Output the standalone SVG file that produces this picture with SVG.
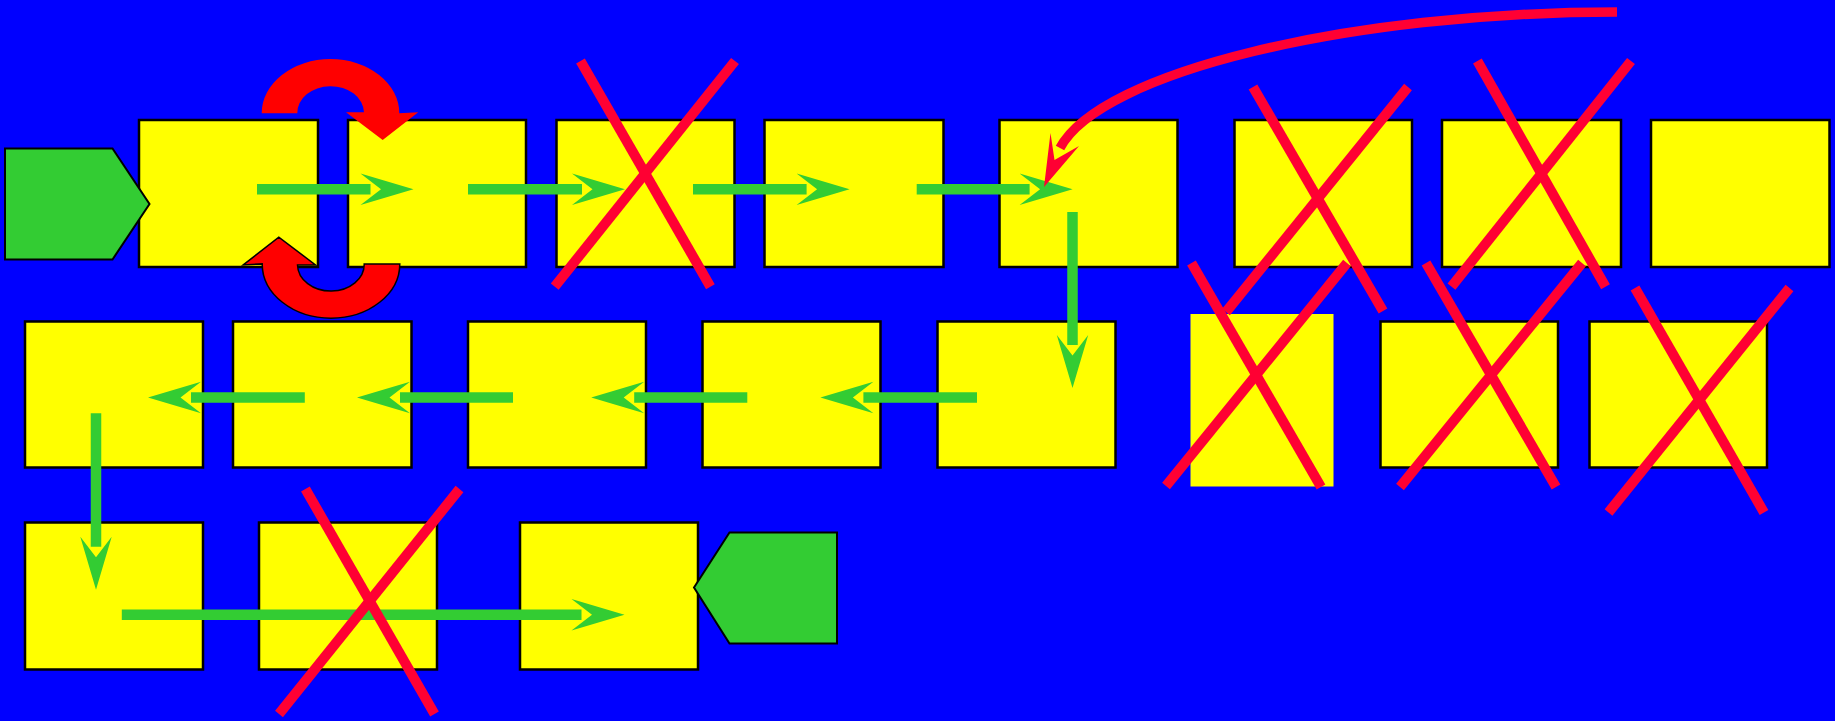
<svg xmlns="http://www.w3.org/2000/svg" width="1835" height="721" viewBox="0 0 1835 721">
<style>
.box{fill:#FFFF00;stroke:#000;stroke-width:2.5}
.plain{fill:#FFFF00}
.term{fill:#33CC33;stroke:#000;stroke-width:2}
.conn{stroke:#33CC33;stroke-width:10.5;fill:none}
.x{stroke:#FF0033;stroke-width:10;fill:none}
.head{fill:#33CC33}
</style>
<defs>
<marker id="ah" markerUnits="userSpaceOnUse" orient="auto" refX="0" refY="0" markerWidth="60" markerHeight="40" overflow="visible">
<path class="head" d="M43,0 L-10,-15.7 L10.5,0 L-10,15.7 Z"/>
</marker>
<path id="uturn" d="M261.7,113.3 A68.8,54.3 0 0 1 399.3,113.3 L418.3,112.3 L382.7,140 L346,112.3 L364,112.3 A33.3,26.6 0 0 0 297.3,113.3 Z"/>
</defs>
<rect x="0" y="0" width="1835" height="721" fill="#0000FF"/>

<g id="b1"><rect class="box" x="139" y="120" width="179" height="147"/></g>
<g id="start"><polygon class="term" points="5,148.5 112.5,148.5 149.5,204 112.5,259.5 5,259.5"/></g>
<g id="b2"><rect class="box" x="348" y="120" width="178" height="147"/></g>
<g id="b3"><rect class="box" x="556.5" y="120" width="178" height="147"/></g>
<g id="b4"><rect class="box" x="764.5" y="120" width="179" height="147"/></g>
<g id="b5"><rect class="box" x="999.5" y="120" width="178" height="147"/></g>
<g id="b6"><rect class="box" x="1234.5" y="120" width="177.5" height="147"/></g>
<g id="b7"><rect class="box" x="1442" y="120" width="179" height="147"/></g>
<g id="b8"><rect class="box" x="1651" y="120" width="178.5" height="147"/></g>

<g id="c1"><rect class="box" x="25" y="321.5" width="178" height="146"/></g>
<g id="c2"><rect class="box" x="233" y="321.5" width="178.5" height="146"/></g>
<g id="c3"><rect class="box" x="468" y="321.5" width="178" height="146"/></g>
<g id="c4"><rect class="box" x="702.5" y="321.5" width="178" height="146"/></g>
<g id="c5"><rect class="box" x="937.5" y="321.5" width="178" height="146"/></g>
<g id="c6"><rect class="plain" x="1190.5" y="314" width="143" height="172.5"/></g>
<g id="c7"><rect class="box" x="1380.5" y="321.5" width="177.5" height="146"/></g>
<g id="c8"><rect class="box" x="1589.5" y="321.5" width="177.5" height="146"/></g>

<g id="d1"><rect class="box" x="25" y="522.5" width="178" height="147"/></g>
<g id="d2"><rect class="box" x="259" y="522.5" width="178" height="147"/></g>
<g id="d3"><rect class="box" x="520" y="522.5" width="178" height="147"/></g>
<g id="end"><polygon class="term" points="694,587.5 729.5,532.5 837,532.5 837,643.5 729.5,643.5"/></g>

<g id="connectors">
<line class="conn" x1="257" y1="189.3" x2="370.5" y2="189.3" marker-end="url(#ah)"/>
<line class="conn" x1="468" y1="189.3" x2="582" y2="189.3" marker-end="url(#ah)"/>
<line class="conn" x1="693" y1="189.3" x2="806.6" y2="189.3" marker-end="url(#ah)"/>
<line class="conn" x1="916.7" y1="189.3" x2="1029.6" y2="189.3" marker-end="url(#ah)"/>
<line class="conn" x1="1072.5" y1="212" x2="1072.5" y2="345" marker-end="url(#ah)"/>
<line class="conn" x1="977" y1="397.5" x2="863.4" y2="397.5" marker-end="url(#ah)"/>
<line class="conn" x1="747.3" y1="397.5" x2="634.2" y2="397.5" marker-end="url(#ah)"/>
<line class="conn" x1="513" y1="397.5" x2="400" y2="397.5" marker-end="url(#ah)"/>
<line class="conn" x1="304.8" y1="397.5" x2="191" y2="397.5" marker-end="url(#ah)"/>
<line class="conn" x1="96" y1="413.3" x2="96" y2="546.7" marker-end="url(#ah)"/>
<line class="conn" x1="121.8" y1="614.7" x2="581.5" y2="614.7" marker-end="url(#ah)"/>
</g>

<g id="uturns">
<use href="#uturn" fill="#FF0000"/>
<use href="#uturn" fill="#FF0000" stroke="#000" stroke-width="1.5" transform="rotate(180 330.75 188.6)"/>
</g>

<g id="curve">
<path d="M1617,12 C1350,12 1100,72 1060,148" fill="none" stroke="#FF0033" stroke-width="9.5"/>
<polygon points="1044,187 1050.5,133 1054.5,160 1079,146" fill="#FF0033"/>
</g>

<g id="crosses">
<line class="x" x1="580.5" y1="61" x2="710.4" y2="286.7"/>
<line class="x" x1="735" y1="61" x2="554.7" y2="286.7"/>
<line class="x" x1="1253" y1="87" x2="1383" y2="311"/>
<line class="x" x1="1408" y1="87" x2="1226" y2="312"/>
<line class="x" x1="1477.4" y1="61" x2="1605.5" y2="286.7"/>
<line class="x" x1="1631" y1="61" x2="1451.5" y2="286.7"/>
<line class="x" x1="1191.5" y1="263" x2="1321" y2="487"/>
<line class="x" x1="1347" y1="263" x2="1166" y2="486"/>
<line class="x" x1="1426" y1="263" x2="1556" y2="487"/>
<line class="x" x1="1582" y1="263" x2="1400" y2="487"/>
<line class="x" x1="1635" y1="288" x2="1764" y2="512.5"/>
<line class="x" x1="1789.5" y1="288" x2="1608.5" y2="512.5"/>
<line class="x" x1="305.4" y1="489" x2="434.5" y2="714"/>
<line class="x" x1="459.5" y1="489" x2="279" y2="714"/>
</g>
</svg>
